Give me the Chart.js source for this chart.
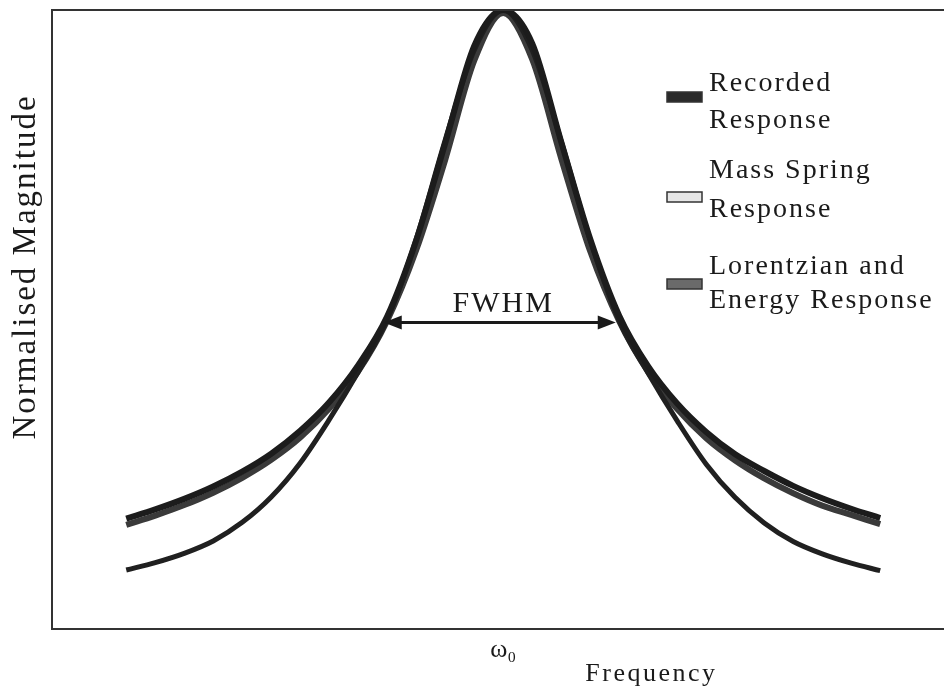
<!DOCTYPE html>
<html>
<head>
<meta charset="utf-8">
<script src="https://cdn.jsdelivr.net/npm/chart.js@4.4.1/dist/chart.umd.min.js"></script>
<style>
  html, body { margin: 0; padding: 0; background: #fff; }
  #wrap { width: 944px; height: 686px; position: relative; }
</style>
</head>
<body>
<div id="wrap"><canvas id="myChart"></canvas></div>
<script>
// frequency offset from w0, in half-widths (FWHM / 2 = 1)
const freq = [-3.25, -3.0, -2.75, -2.5, -2.25, -2.0, -1.75, -1.5, -1.25, -1.0, -0.75, -0.5, -0.25, 0,
  0.25, 0.5, 0.75, 1.0, 1.25, 1.5, 1.75, 2.0, 2.25, 2.5, 2.75, 3.0, 3.25];

const recorded = [0.178, 0.193, 0.210, 0.230, 0.254, 0.283, 0.320, 0.366, 0.426, 0.505, 0.628, 0.785, 0.942, 1.0,
  0.946, 0.787, 0.630, 0.506, 0.424, 0.364, 0.318, 0.282, 0.255, 0.231, 0.211, 0.194, 0.179];
const massSpring = [0.095, 0.107, 0.122, 0.142, 0.172, 0.213, 0.268, 0.338, 0.415, 0.500, 0.630, 0.790, 0.935, 1.0,
  0.935, 0.788, 0.628, 0.498, 0.413, 0.336, 0.266, 0.212, 0.171, 0.141, 0.121, 0.106, 0.094];
const lorentzian = [0.168, 0.183, 0.200, 0.220, 0.244, 0.273, 0.309, 0.356, 0.416, 0.498, 0.612, 0.758, 0.918, 0.995,
  0.920, 0.760, 0.610, 0.497, 0.415, 0.355, 0.308, 0.272, 0.243, 0.219, 0.199, 0.184, 0.169];

const seriesNames = ['Recorded Response', 'Mass Spring Response', 'Lorentzian and Energy Response'];
const legendLines = [['Recorded', 'Response'], ['Mass Spring', 'Response'], ['Lorentzian and', 'Energy Response']];
const tickLabels = ['ω₀'];
const axisTitles = ['Frequency', 'Normalised Magnitude'];
const fwhmLabel = 'FWHM';
const fwhmLevel = 0.495;
const fwhmEdges = [-1.03, 0.97];

const SERIF = "'Liberation Serif', 'Times New Roman', serif";

function pairs(ys) {
  return freq.map((f, i) => ({ x: f, y: ys[i] }));
}

// top edge of the box (the axes draw left + bottom)
const framePlugin = {
  id: 'frame',
  afterDraw(chart) {
    const c = chart.ctx, a = chart.chartArea;
    c.save();
    c.strokeStyle = '#333';
    c.lineWidth = 2;
    c.beginPath();
    c.moveTo(a.left - 1, a.top);
    c.lineTo(a.right, a.top);
    c.stroke();
    c.restore();
  }
};

const fwhmPlugin = {
  id: 'fwhm',
  afterDatasetsDraw(chart) {
    const c = chart.ctx;
    const xs = chart.scales.x, ys = chart.scales.y;
    const x0 = xs.getPixelForValue(fwhmEdges[0]);
    const x1 = xs.getPixelForValue(fwhmEdges[1]);
    const y = ys.getPixelForValue(fwhmLevel);
    const head = 18, half = 7;
    c.save();
    c.strokeStyle = '#1a1a1a';
    c.fillStyle = '#1a1a1a';
    c.lineWidth = 3;
    c.beginPath();
    c.moveTo(x0 + head - 2, y);
    c.lineTo(x1 - head + 2, y);
    c.stroke();
    c.beginPath();
    c.moveTo(x0, y);
    c.lineTo(x0 + head, y - half);
    c.lineTo(x0 + head, y + half);
    c.closePath();
    c.fill();
    c.beginPath();
    c.moveTo(x1, y);
    c.lineTo(x1 - head, y - half);
    c.lineTo(x1 - head, y + half);
    c.closePath();
    c.fill();
    c.font = '30px ' + SERIF;
    c.letterSpacing = '2px';
    c.textAlign = 'center';
    c.textBaseline = 'alphabetic';
    c.fillText(fwhmLabel, xs.getPixelForValue(0), y - 10);
    c.restore();
  }
};

// legend with two-line labels, sitting inside the box on the right
const legendPlugin = {
  id: 'boxLegend',
  afterDraw(chart) {
    const c = chart.ctx;
    const swX = 667, swW = 35, swH = 10, textX = 709;
    const baselines = [[91, 128], [178, 217], [274, 308]];
    const swY = [92, 192, 279];
    c.save();
    chart.data.datasets.forEach((ds, i) => {
      c.lineWidth = 1.5;
      c.strokeStyle = '#333';
      c.fillStyle = ds.legendFill;
      c.fillRect(swX, swY[i], swW, swH);
      c.strokeRect(swX, swY[i], swW, swH);
      c.fillStyle = '#1a1a1a';
      c.font = '28px ' + SERIF;
      c.letterSpacing = '2px';
      c.textAlign = 'left';
      c.textBaseline = 'alphabetic';
      legendLines[i].forEach((t, j) => c.fillText(t, textX, baselines[i][j]));
    });
    c.restore();
  }
};

const axisTitlePlugin = {
  id: 'axisTitles',
  afterDraw(chart) {
    const c = chart.ctx, a = chart.chartArea;
    c.save();
    c.fillStyle = '#1a1a1a';
    c.textAlign = 'center';
    c.textBaseline = 'alphabetic';
    c.font = '26px ' + SERIF;
    c.letterSpacing = '2.5px';
    c.fillText(axisTitles[0], a.left + (a.right - a.left) * 0.672, 681);
    c.translate(a.left - 17, 267);
    c.rotate(-Math.PI / 2);
    c.font = '33px ' + SERIF;
    c.letterSpacing = '2px';
    c.fillText(axisTitles[1], 0, 0);
    c.restore();
  }
};

var ctx = document.getElementById('myChart');

var myChart = new Chart(ctx, {
  type: 'line',
  data: {
    datasets: [
      {
        label: seriesNames[0],
        data: pairs(recorded),
        borderColor: '#1c1c1c',
        borderWidth: 6,
        legendFill: '#2a2a2a'
      },
      {
        label: seriesNames[1],
        data: pairs(massSpring),
        borderColor: '#202020',
        borderWidth: 5,
        legendFill: '#e6e6e6'
      },
      {
        label: seriesNames[2],
        data: pairs(lorentzian),
        borderColor: '#3a3a3a',
        borderWidth: 6,
        legendFill: '#6a6a6a'
      }
    ]
  },
  options: {
    responsive: true,
    maintainAspectRatio: false,
    animation: false,
    layout: { padding: { left: 52, top: 10, right: 0, bottom: 14 } },
    elements: {
      point: { radius: 0 },
      line: { cubicInterpolationMode: 'monotone', fill: false }
    },
    plugins: {
      legend: { display: false },
      tooltip: { enabled: false }
    },
    scales: {
      x: {
        type: 'linear',
        min: -3.89,
        max: 3.8,
        grid: { display: false, drawTicks: false },
        border: { display: true, color: '#333', width: 2 },
        afterBuildTicks: (scale) => { scale.ticks = [{ value: 0 }]; },
        ticks: {
          autoSkip: false,
          maxRotation: 0,
          padding: 6,
          color: '#1a1a1a',
          font: { family: SERIF, size: 26 },
          callback: () => tickLabels[0]
        }
      },
      y: {
        min: 0,
        max: 1,
        grid: { display: false, drawTicks: false },
        border: { display: true, color: '#333', width: 2 },
        ticks: { display: false }
      }
    }
  },
  plugins: [framePlugin, fwhmPlugin, legendPlugin, axisTitlePlugin]
});
</script>
</body>
</html>
